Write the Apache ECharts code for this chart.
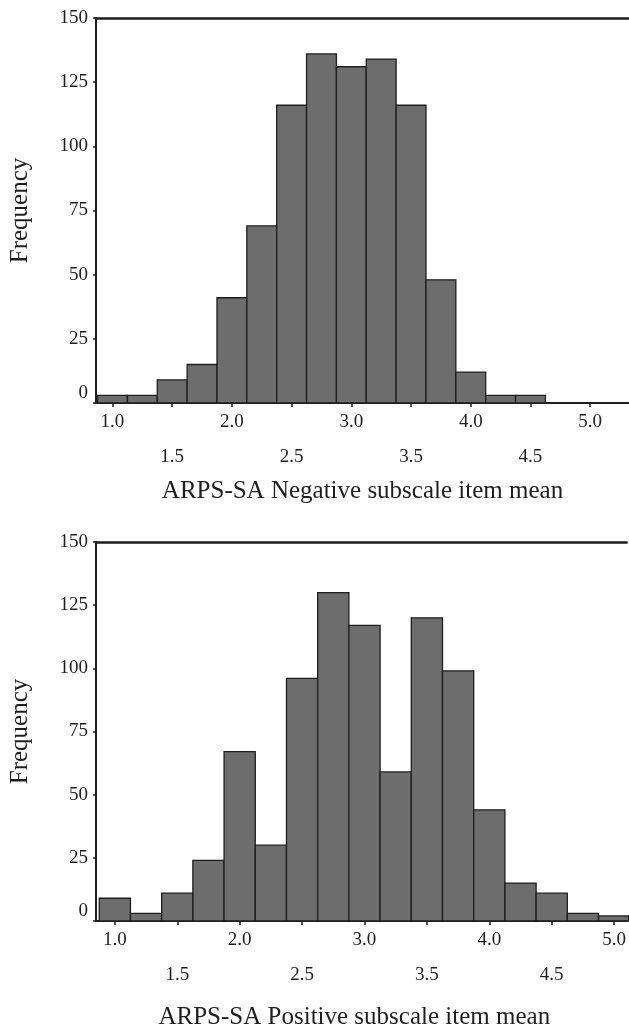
<!DOCTYPE html>
<html>
<head>
<meta charset="utf-8">
<style>
  html, body { margin: 0; padding: 0; background: #fff; }
  #chart { width: 629px; height: 1031px; }
</style>
<script src="https://cdn.jsdelivr.net/npm/echarts@6/dist/echarts.min.js"></script>
</head>
<body>
<div id="chart"></div>
<script>
// histogram bins (bin centre, width 0.25) and counts
var negBins = [1.0, 1.25, 1.5, 1.75, 2.0, 2.25, 2.5, 2.75, 3.0, 3.25, 3.5, 3.75, 4.0, 4.25, 4.5];
var negCounts = [3, 3, 9, 15, 41, 69, 116, 136, 131, 134, 116, 48, 12, 3, 3];

var posBins = [1.0, 1.25, 1.5, 1.75, 2.0, 2.25, 2.5, 2.75, 3.0, 3.25, 3.5, 3.75, 4.0, 4.25, 4.5, 4.75, 5.0];
var posCounts = [9, 3, 11, 24, 67, 30, 96, 130, 117, 59, 120, 99, 44, 15, 11, 3, 2];

var xTicks = [1.0, 1.5, 2.0, 2.5, 3.0, 3.5, 4.0, 4.5, 5.0];
var yTicks = [0, 25, 50, 75, 100, 125, 150];

var binWidth = 0.25;
var serif = '"Liberation Serif", "Times New Roman", serif';
var ink = '#1e1e1e';

var chart = echarts.init(document.getElementById('chart'));

function renderBar(params, api) {
  var x = api.value(0), y = api.value(1);
  var p0 = api.coord([x - binWidth / 2, y]);
  var p1 = api.coord([x + binWidth / 2, 0]);
  var cs = params.coordSys;
  var right = Math.min(p1[0], cs.x + cs.width + 2);
  return {
    type: 'rect',
    shape: { x: p0[0], y: p0[1], width: right - p0[0], height: p1[1] - p0[1] },
    style: { fill: '#6d6d6d', stroke: ink, lineWidth: 1.3 }
  };
}

function xLabel(v) {
  var s = v.toFixed(1);
  return (Math.round(v * 10) % 10 === 0) ? '{a|' + s + '}' : '{b|' + s + '}';
}

function yLabel(v) {
  return v === 0 ? '{z|0}' : '{n|' + v + '}';
}

function xAxisFor(idx, min, max, title, gap, shift) {
  return [{
    gridIndex: idx,
    type: 'value',
    min: min,
    max: max,
    name: title,
    nameLocation: 'middle',
    nameGap: gap,
    nameTextStyle: { fontFamily: serif, fontSize: 25, color: ink, padding: [0, shift, 0, 0] },
    axisLine: { show: true, onZero: false, lineStyle: { color: ink, width: 2 } },
    axisTick: { show: true, customValues: xTicks, length: 4, lineStyle: { color: ink, width: 1.5 } },
    axisLabel: {
      customValues: xTicks,
      interval: 0,
      margin: 10,
      color: ink,
      fontFamily: serif,
      fontSize: 19,
      formatter: xLabel,
      rich: {
        a: { fontFamily: serif, fontSize: 19, color: ink },
        b: { fontFamily: serif, fontSize: 19, color: ink, padding: [35, 0, 0, 0] }
      }
    },
    splitLine: { show: false }
  }, {
    // top frame line
    gridIndex: idx,
    type: 'value',
    position: 'top',
    min: min,
    max: max,
    axisLine: { show: true, onZero: false, lineStyle: { color: ink, width: 2.5 } },
    axisTick: { show: false },
    axisLabel: { show: false },
    splitLine: { show: false }
  }];
}

function yAxisFor(idx) {
  return {
    gridIndex: idx,
    type: 'value',
    min: 0,
    max: 150,
    interval: 25,
    name: 'Frequency',
    nameLocation: 'middle',
    nameGap: 63,
    nameTextStyle: { fontFamily: serif, fontSize: 25, color: ink },
    axisLine: { show: true, onZero: false, lineStyle: { color: ink, width: 2 } },
    axisTick: { show: true, length: 3, lineStyle: { color: ink, width: 1.5 } },
    axisLabel: {
      margin: 8,
      color: ink,
      fontFamily: serif,
      fontSize: 19,
      formatter: yLabel,
      rich: {
        n: { fontFamily: serif, fontSize: 19, color: ink },
        z: { fontFamily: serif, fontSize: 19, color: ink, padding: [0, 0, 20, 0] }
      }
    },
    splitLine: { show: false }
  };
}

var xTop = xAxisFor(0, 0.862, 5.325, 'ARPS-SA Negative subscale item mean', 76, 0);
var xBottom = xAxisFor(1, 0.849, 5.10, 'ARPS-SA Positive subscale item mean', 84, 14);

var option = {
  backgroundColor: '#fff',
  animation: false,
  grid: [
    { left: 96, right: 0, top: 18, height: 385 },
    { left: 96, right: 0, top: 542, height: 380 }
  ],
  xAxis: [xTop[0], xTop[1], xBottom[0], xBottom[1]],
  yAxis: [yAxisFor(0), yAxisFor(1)],
  series: [
    {
      type: 'custom',
      xAxisIndex: 0,
      yAxisIndex: 0,
      renderItem: renderBar,
      data: negBins.map(function (b, i) { return [b, negCounts[i]]; })
    },
    {
      type: 'custom',
      xAxisIndex: 2,
      yAxisIndex: 1,
      renderItem: renderBar,
      data: posBins.map(function (b, i) { return [b, posCounts[i]]; })
    }
  ]
};

chart.setOption(option);
</script>
</body>
</html>
